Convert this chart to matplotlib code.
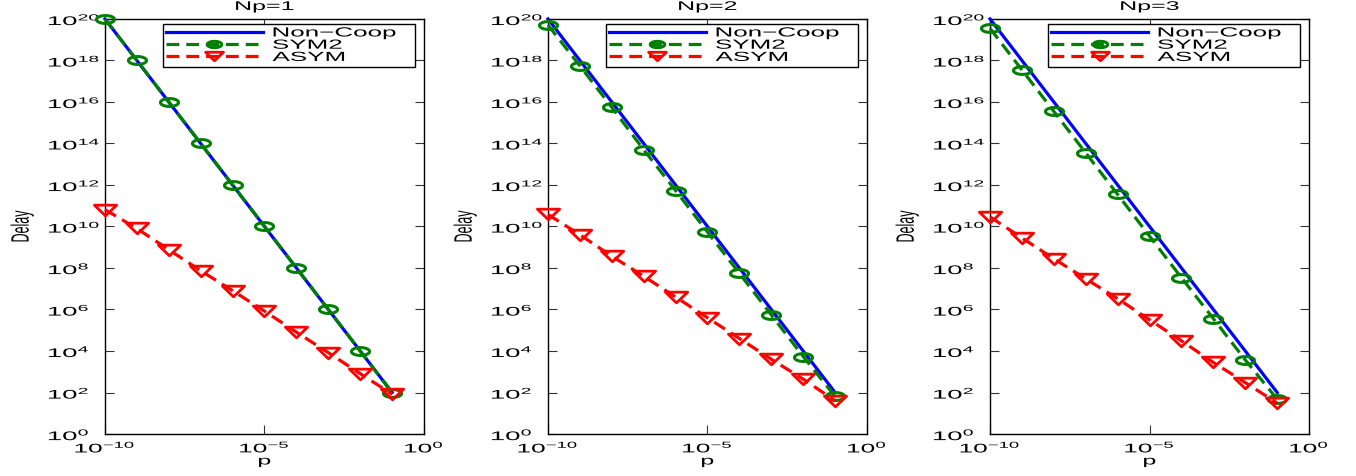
import numpy as np
import matplotlib
matplotlib.use('Agg')
import matplotlib.pyplot as plt
from matplotlib.path import Path
from matplotlib.patheffects import AbstractPathEffect
from matplotlib.transforms import Affine2D

# data
p = [1e-10, 1e-9, 1e-8, 1e-7, 1e-6, 1e-5, 1e-4, 1e-3, 1e-2, 1e-1]

titles = ['Np=1', 'Np=2', 'Np=3']

noncoop_np1 = [1e20, 1e18, 1e16, 1e14, 1e12, 1e10, 1e8, 1e6, 1e4, 1e2]
noncoop_np2 = [1e20, 1e18, 1e16, 1e14, 1e12, 1e10, 1e8, 1e6, 1e4, 1e2]
noncoop_np3 = [1e20, 1e18, 1e16, 1e14, 1e12, 1e10, 1e8, 1e6, 1e4, 1e2]

sym2_np1 = [1e20, 1e18, 1e16, 1e14, 1e12, 1e10, 1e8, 1e6, 1e4, 1e2]
sym2_np2 = [5.1e19, 5.5e17, 5.5e15, 5.0e13, 5.4e11, 5.4e9, 5.5e7, 5.5e5, 5.4e3, 65]
sym2_np3 = [3.5e19, 3.5e17, 3.5e15, 3.5e13, 3.5e11, 3.4e9, 3.4e7, 3.6e5, 3.7e3, 48]

asym_np1 = [6.5e10, 8.0e9, 7.6e8, 7.4e7, 8.1e6, 8.3e5, 8.1e4, 8.3e3, 810, 83]
asym_np2 = [3.8e10, 4.0e9, 3.7e8, 4.0e7, 4.0e6, 4.0e5, 4.0e4, 4.0e3, 440, 40]
asym_np3 = [2.9e10, 2.8e9, 2.8e8, 3.0e7, 3.3e6, 3.2e5, 3.1e4, 2.8e3, 300, 31]

noncoop = [noncoop_np1, noncoop_np2, noncoop_np3]
sym2 = [sym2_np1, sym2_np2, sym2_np3]
asym = [asym_np1, asym_np2, asym_np3]


class StretchX(AbstractPathEffect):
    # the reference image is stretched sideways, so stretch text the same way
    def __init__(self, sx, anchor='center'):
        super().__init__()
        self.sx = sx
        self.anchor = anchor

    def draw_path(self, renderer, gc, tpath, affine, rgbFace=None):
        ext = tpath.get_extents(affine)
        if self.anchor == 'right':
            x0 = ext.x1
        elif self.anchor == 'left':
            x0 = ext.x0
        else:
            x0 = 0.5 * (ext.x0 + ext.x1)
        aff = affine + Affine2D().translate(-x0, 0).scale(self.sx, 1).translate(x0, 0)
        renderer.draw_path(gc, tpath, aff, rgbFace)


# wide markers to match the squashed look
t = np.linspace(0, 2 * np.pi, 80)
ring = Path(np.column_stack([2.3 * np.cos(t), np.sin(t)]), closed=True)
tri_down = Path([(-1.0, 0.48), (1.0, 0.48), (0.0, -0.48), (-1.0, 0.48)], closed=True)

plt.rcParams['font.family'] = ['Liberation Sans', 'DejaVu Sans']
plt.rcParams['mathtext.fontset'] = 'custom'
plt.rcParams['mathtext.rm'] = 'Liberation Sans'
plt.rcParams['mathtext.it'] = 'Liberation Sans:italic'
plt.rcParams['mathtext.bf'] = 'Liberation Sans:bold'

fig = plt.figure(figsize=(13.56, 4.76), dpi=100)

lefts = [0.0774, 0.4041, 0.7301]
axes = []
for i in range(3):
    ax = fig.add_axes([lefts[i], 0.0882, 0.2353, 0.872])
    axes.append(ax)

    ax.loglog(p, noncoop[i], color='blue', lw=2.3, label='Non\u2212Coop', zorder=3, clip_on=False)
    ax.loglog(p, sym2[i], color=(0, 0.5, 0), lw=2.3, ls=(0, (4, 2.2)), marker=ring,
              ms=13, mfc='none', mew=2.2, label='SYM2', zorder=4, clip_on=False)
    ax.loglog(p, asym[i], color='red', lw=2.3, ls=(0, (4, 2.2)), marker=tri_down,
              ms=16, mfc='none', mew=2.0, label='ASYM', zorder=4, clip_on=False)

    ax.set_xlim(1e-10, 1e0)
    ax.set_ylim(1e0, 1e20)
    ax.set_xticks([1e-10, 1e-5, 1e0])
    ax.set_yticks([10.0 ** k for k in range(0, 21, 2)])
    ax.minorticks_off()
    ax.tick_params(direction='in', length=6.5, width=0.8, top=True, right=True,
                   labelsize=9, color='#333333')
    # MATLAB lines the y labels up on their left edge
    ax.tick_params(axis='y', pad=41)
    ax.tick_params(axis='x', pad=4.5)
    for s in ax.spines.values():
        s.set_linewidth(1.0)

    ax.set_title(titles[i], fontsize=9, pad=6.5)
    ax.set_xlabel('p', fontsize=9, labelpad=0)
    ax.set_ylabel('Delay', fontsize=9)
    ax.yaxis.set_label_coords(-0.24, 0.5)

    leg = ax.legend(loc='upper left', bbox_to_anchor=(0.182, 0.872, 0.79, 0.116),
                    mode='expand', borderaxespad=0, fontsize=9.5, numpoints=1,
                    handlelength=7.3, handletextpad=0.75, labelspacing=0.0,
                    borderpad=0.25, fancybox=False, framealpha=1, edgecolor='black',
                    markerscale=0.8)
    leg.get_frame().set_linewidth(1.0)
    for txt in leg.get_texts():
        txt.set_path_effects([StretchX(1.97, 'left')])

fig.canvas.draw()
for ax in axes:
    for lab in ax.get_yticklabels():
        lab.set_horizontalalignment('left')
        lab.set_path_effects([StretchX(2.2, 'left')])
    for lab in ax.get_xticklabels():
        lab.set_path_effects([StretchX(2.1, 'center')])
    ax.title.set_path_effects([StretchX(2.0, 'center')])
    ax.xaxis.label.set_path_effects([StretchX(2.0, 'center')])
    ax.yaxis.label.set_path_effects([StretchX(2.0, 'center')])

fig.savefig('out.png', dpi=100)
